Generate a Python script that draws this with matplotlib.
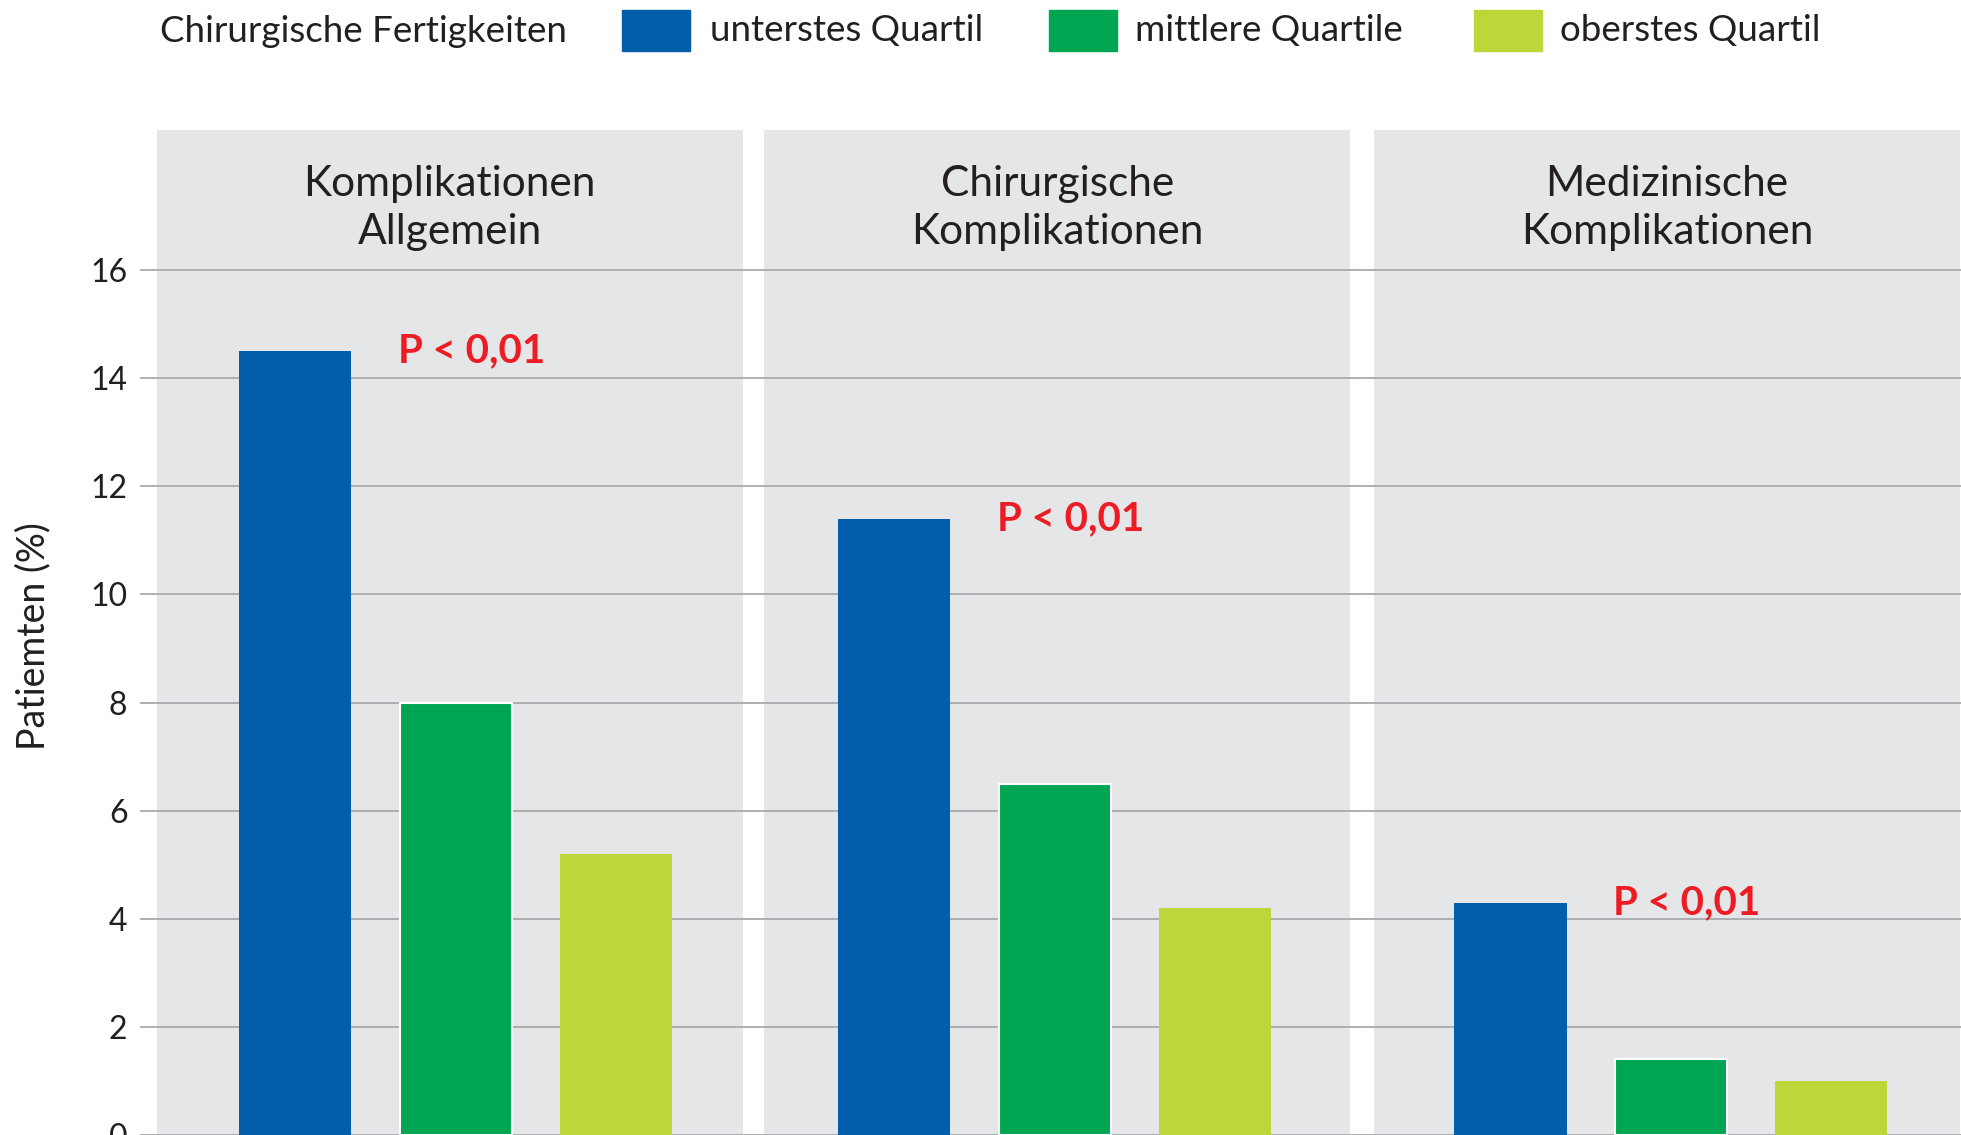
import numpy as np
import matplotlib
matplotlib.use("Agg")
import matplotlib.pyplot as plt
from matplotlib.patches import Rectangle

plt.rcParams['font.family'] = ['Lato', 'DejaVu Sans']

# Daten
gruppen = ["Komplikationen\nAllgemein", "Chirurgische\nKomplikationen", "Medizinische\nKomplikationen"]
quartile = ["unterstes Quartil", "mittlere Quartile", "oberstes Quartil"]
unterstes = [14.5, 11.4, 4.3]
mittlere = [8.0, 6.5, 1.4]
oberstes = [5.2, 4.2, 1.0]
p_werte = ["P < 0,01", "P < 0,01", "P < 0,01"]
yticks = [0, 2, 4, 6, 8, 10, 12, 14, 16]

farben = ["#025eaa", "#00a551", "#bed63a"]
panel_grau = "#e5e6e8"
gitter = "#a7a9ac"
rot = "#ed1c24"
text_farbe = "#231f20"

W, H = 1961, 1135
fig = plt.figure(figsize=(W / 100, H / 100), dpi=100)

ytop = 18.59
ax_h = (H - 130) / H

# Hintergrund-Achse mit Skala und durchgehenden Gitterlinien
ax_bg = fig.add_axes([140 / W, 0, (W - 140) / W, ax_h])
ax_bg.set_ylim(0, ytop)
ax_bg.set_xlim(0, 1)
ax_bg.set_yticks(yticks)
ax_bg.set_yticklabels([str(t) for t in yticks], fontsize=23, color=text_farbe)
ax_bg.tick_params(axis='y', length=0, pad=9)
ax_bg.set_xticks([])
for s in ax_bg.spines.values():
    s.set_visible(False)
for t in yticks:
    ax_bg.axhline(t, color=gitter, lw=1.3, zorder=0)

fig.text(33 / W, 1 - 636 / H, "Patiemten (%)", rotation=90, ha='center', va='center',
         fontsize=27, color=text_farbe)

# Panels
panel_links = [156.6, 764.4, 1374]
panel_breite = 586
offsets = [0.865, 0.81, 0.851]
px_unit = 160.4
x = np.arange(3)
for g in range(3):
    ax = fig.add_axes([panel_links[g] / W, 0, panel_breite / W, ax_h])
    ax.set_facecolor(panel_grau)
    ax.set_ylim(0, ytop)
    xl = -offsets[g]
    ax.set_xlim(xl, xl + panel_breite / px_unit)
    for t in yticks:
        ax.axhline(t, color=gitter, lw=1.3, zorder=0)
    werte = [unterstes[g], mittlere[g], oberstes[g]]
    for i in range(3):
        ec = 'white' if i == 1 else 'none'
        ax.bar(x[i], werte[i], width=0.7, color=farben[i], edgecolor=ec, linewidth=1.5, zorder=2)
    ax.text(x[0] + 0.64, unterstes[g], p_werte[g], color=rot, fontsize=29, fontweight='bold',
            ha='left', va='center', zorder=3)
    ax.text(0.5, (H - 208) / (H - 130), gruppen[g], transform=ax.transAxes, ha='center', va='center',
            fontsize=30.5, color=text_farbe, linespacing=1.32)
    ax.set_xticks([])
    ax.set_yticks([])
    for s in ax.spines.values():
        s.set_visible(False)

# Legende
fig.text(160 / W, 1 - 31 / H, "Chirurgische Fertigkeiten", ha='left', va='center', fontsize=26.5, color=text_farbe)
patch_x = [622, 1049, 1474]
text_x = [710, 1135, 1560]
for i in range(3):
    fig.add_artist(Rectangle((patch_x[i] / W, 1 - 51 / H), 68 / W, 41 / H,
                             transform=fig.transFigure, color=farben[i]))
    fig.text(text_x[i] / W, 1 - 31 / H, quartile[i], ha='left', va='center', fontsize=26.5, color=text_farbe)

fig.savefig("out.png", dpi=100, facecolor='white')
